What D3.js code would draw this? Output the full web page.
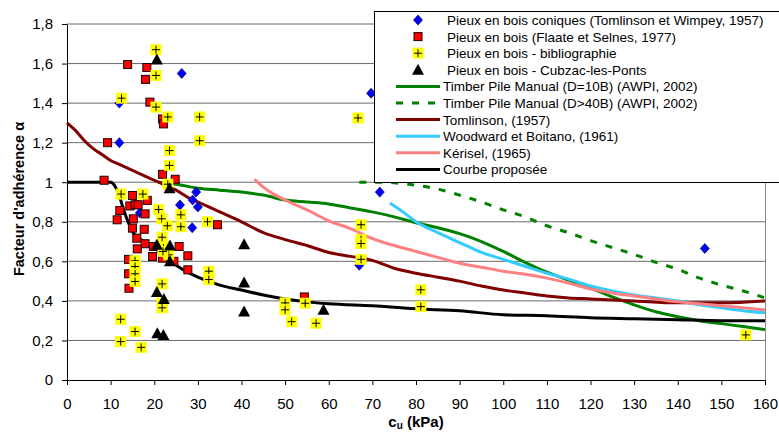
<!DOCTYPE html>
<html lang="fr">
<head>
    <meta charset="UTF-8">
    <title>Facteur d'adhérence α</title>
    <script src="https://d3js.org/d3.v7.min.js"></script>
    <style>
        body { margin: 0; background: white; }
        svg { display: block; font-family: 'Liberation Sans', Arial, sans-serif; }
    </style>
</head>
<body>
<svg width="779" height="433"></svg>
<script>
// ---- data: [cu (kPa), alpha] ----
const xTicks = [0, 10, 20, 30, 40, 50, 60, 70, 80, 90, 100, 110, 120, 130, 140, 150, 160];
const yTicks = [0, 0.2, 0.4, 0.6, 0.8, 1, 1.2, 1.4, 1.6, 1.8];

const coniques = [[12, 1.20], [12, 1.40], [26.3, 1.55], [29.6, 0.95], [28.8, 0.91], [30, 0.875], [25.9, 0.885],
    [28.7, 0.77], [16.7, 0.845], [69.7, 1.45], [71.7, 0.95], [67, 0.58], [146.2, 0.665]];

const flaate = [[13.9, 1.595], [18.3, 1.58], [18.0, 1.52], [19.0, 1.405], [21.9, 1.32], [22.1, 1.295], [9.3, 1.20],
    [21.9, 1.04], [24.8, 1.015], [8.5, 1.01], [15.0, 0.933], [18.4, 0.908], [14.4, 0.88], [15.6, 0.886], [16.3, 0.886],
    [12.1, 0.857], [17.9, 0.84], [11.5, 0.81], [15.2, 0.815], [15.0, 0.768], [17.7, 0.762], [16.0, 0.717], [17.9, 0.689],
    [16.1, 0.663], [19.8, 0.675], [19.6, 0.624], [21.9, 0.616], [25.7, 0.675], [27.7, 0.628], [27.7, 0.557],
    [14.1, 0.61], [14.1, 0.537], [14.2, 0.464], [24.5, 0.60], [34.5, 0.785], [54.4, 0.42]];

const biblio = [[20.4, 1.67], [20.4, 1.54], [12.5, 1.425], [20.4, 1.38], [23.1, 1.33], [30.4, 1.33], [66.7, 1.325],
    [30.4, 1.21], [23.5, 1.16], [23.5, 1.085], [23.1, 0.99], [12.4, 0.94], [17.4, 0.94], [21.0, 0.862], [21.7, 0.815],
    [23.0, 0.78], [26.1, 0.835], [26.1, 0.775], [32.2, 0.80], [21.8, 0.722], [22.1, 0.667], [23.3, 0.633], [22.0, 0.65],
    [15.6, 0.603], [15.6, 0.574], [15.6, 0.537], [15.6, 0.498], [21.8, 0.486], [21.8, 0.39], [21.8, 0.365],
    [12.3, 0.307], [12.3, 0.194], [15.6, 0.245], [17.0, 0.165], [32.5, 0.55], [32.5, 0.508], [50, 0.39], [50, 0.355],
    [51.5, 0.295], [54.6, 0.388], [57.1, 0.287], [67.4, 0.785], [67.4, 0.71], [67.4, 0.69], [67.4, 0.61],
    [81.1, 0.456], [81.1, 0.371], [155.6, 0.228]];

const cubzac = [[20.6, 1.62], [23.5, 0.97], [20.6, 0.684], [23.6, 0.68], [23.6, 0.60], [20.6, 0.445], [22.2, 0.41],
    [20.7, 0.236], [22.1, 0.228], [40.6, 0.687], [40.6, 0.493], [40.6, 0.346], [58.8, 0.355]];

const awpi10 = [[21, 1.0], [25, 0.99], [30, 0.97], [35, 0.96], [40, 0.95], [45, 0.935], [50, 0.91], [55, 0.90],
    [60, 0.89], [65, 0.87], [70, 0.85], [75, 0.825], [80, 0.795], [85, 0.77], [90, 0.74], [95, 0.70], [100, 0.65],
    [105, 0.595], [110, 0.545], [115, 0.505], [120, 0.465], [125, 0.42], [130, 0.38], [135, 0.345], [140, 0.32],
    [145, 0.30], [150, 0.285], [155, 0.27], [160, 0.255]];

const awpi40 = [[67, 1.0], [72, 1.0], [76, 0.995], [80, 0.985], [85, 0.965], [90, 0.935], [95, 0.90], [100, 0.86],
    [105, 0.825], [110, 0.78], [115, 0.745], [120, 0.705], [125, 0.67], [130, 0.635], [135, 0.595], [140, 0.56],
    [145, 0.515], [150, 0.48], [155, 0.45], [160, 0.415]];

const tomlinson = [[0, 1.30], [2, 1.26], [4, 1.21], [6, 1.17], [8, 1.14], [10, 1.11], [12, 1.09], [14, 1.07],
    [16, 1.05], [18, 1.03], [20, 1.01], [22, 0.99], [25, 0.96], [28, 0.92], [30, 0.90], [35, 0.85], [40, 0.80],
    [45, 0.745], [50, 0.71], [55, 0.68], [60, 0.645], [65, 0.625], [70, 0.605], [75, 0.565], [80, 0.54], [85, 0.52],
    [90, 0.50], [95, 0.475], [100, 0.455], [105, 0.44], [110, 0.425], [115, 0.415], [120, 0.41], [130, 0.40],
    [140, 0.39], [150, 0.39], [160, 0.40]];

const woodward = [[74, 0.895], [77, 0.85], [80, 0.80], [85, 0.745], [90, 0.695], [95, 0.645], [100, 0.61],
    [105, 0.575], [110, 0.54], [115, 0.51], [120, 0.475], [125, 0.45], [130, 0.43], [135, 0.415], [140, 0.40],
    [145, 0.38], [150, 0.365], [155, 0.35], [160, 0.34]];

const kerisel = [[43, 1.015], [45, 0.975], [47, 0.945], [50, 0.91], [55, 0.86], [60, 0.805], [65, 0.765], [70, 0.715],
    [75, 0.68], [80, 0.65], [85, 0.62], [90, 0.59], [95, 0.57], [100, 0.55], [105, 0.535], [110, 0.515], [115, 0.49],
    [120, 0.46], [125, 0.44], [130, 0.425], [135, 0.41], [140, 0.395], [145, 0.385], [150, 0.375], [155, 0.365],
    [160, 0.355]];

const courbe = [[0, 1.0], [10, 1.0], [11, 0.98], [12, 0.93], [13, 0.86], [14, 0.80], [15, 0.75], [17, 0.71],
    [20, 0.67], [22, 0.63], [25, 0.58], [30, 0.52], [35, 0.48], [40, 0.455], [45, 0.43], [50, 0.41], [55, 0.395],
    [60, 0.385], [70, 0.375], [80, 0.36], [90, 0.35], [100, 0.33], [110, 0.325], [120, 0.315], [130, 0.31],
    [140, 0.305], [150, 0.30], [160, 0.30]];

const svg = d3.select("svg"),
    margin = {top: 24, right: 14, bottom: 53, left: 67},
    width = +svg.attr("width") - margin.left - margin.right,
    height = +svg.attr("height") - margin.top - margin.bottom,
    g = svg.append("g").attr("transform", `translate(${margin.left},${margin.top})`);

const x = d3.scaleLinear().domain([0, 160]).range([0, width]);
const y = d3.scaleLinear().domain([0, 1.8]).range([height, 0]);

const fmt = v => d3.format("~g")(+v.toFixed(1)).replace(".", ",");

// gridlines
g.append("g")
    .selectAll("line")
    .data(yTicks.filter(d => d > 0))
    .join("line")
    .attr("x1", 0).attr("x2", width)
    .attr("y1", d => y(d)).attr("y2", d => y(d))
    .attr("stroke", "#6a6a6a")
    .attr("stroke-width", 1);

// right border of plot area
svg.append("line")
    .attr("x1", margin.left + width + 0.5).attr("x2", margin.left + width + 0.5)
    .attr("y1", 12).attr("y2", margin.top + height)
    .attr("stroke", "#888");

// axes
g.append("g")
    .attr("transform", `translate(0,${height})`)
    .call(d3.axisBottom(x).tickValues(xTicks).tickFormat(d => d).tickSize(5).tickSizeOuter(0))
    .call(a => a.selectAll(".domain, .tick line").attr("stroke", "black"))
    .call(a => a.selectAll(".tick text")
        .attr("dy", "0.71em").attr("y", 18)
        .style("font-size", "15px").style("font-family", "'Liberation Sans', Arial").attr("fill", "black"));

g.append("g")
    .call(d3.axisLeft(y).tickValues(yTicks).tickFormat(fmt).tickSize(5).tickSizeOuter(0))
    .call(a => a.selectAll(".domain, .tick line").attr("stroke", "black"))
    .call(a => a.selectAll(".tick text")
        .attr("x", -14)
        .style("font-size", "15px").style("font-family", "'Liberation Sans', Arial").attr("fill", "black"));

// axis titles
svg.append("text")
    .attr("transform", "translate(24,199) rotate(-90)")
    .attr("text-anchor", "middle")
    .style("font-size", "14.5px").style("font-weight", "bold")
    .text("Facteur d'adhérence α");

const xt = svg.append("text")
    .attr("x", 416).attr("y", 427)
    .attr("text-anchor", "middle")
    .style("font-size", "15px").style("font-weight", "bold");
xt.append("tspan").text("c");
xt.append("tspan").attr("dy", 2).style("font-size", "10px").text("u");
xt.append("tspan").attr("dy", -2).text(" (kPa)");

// curves
const line = d3.line().x(d => x(d[0])).y(d => y(d[1])).curve(d3.curveMonotoneX);

const curves = [
    {data: awpi10, label: "Timber Pile Manual (D=10B) (AWPI, 2002)", color: "#008000", dash: null},
    {data: awpi40, label: "Timber Pile Manual (D>40B) (AWPI, 2002)", color: "#008000", dash: "7,9"},
    {data: tomlinson, label: "Tomlinson, (1957)", color: "#800000", dash: null},
    {data: woodward, label: "Woodward et Boitano, (1961)", color: "#33ccff", dash: null},
    {data: kerisel, label: "Kérisel, (1965)", color: "#ff8080", dash: null},
    {data: courbe, label: "Courbe proposée", color: "#000000", dash: null}
];

curves.forEach(c => {
    g.append("path")
        .datum(c.data)
        .attr("fill", "none")
        .attr("stroke", c.color)
        .attr("stroke-width", 3)
        .attr("stroke-dasharray", c.dash)
        .attr("d", line);
});

// marker drawing
const drawDiamond = (sel) => sel.append("path")
    .attr("d", "M0,-5L4.5,0L0,5L-4.5,0Z")
    .attr("fill", "#0000ff").attr("stroke", "#000066").attr("stroke-width", 0.7);
const drawSquare = (sel) => sel.append("rect")
    .attr("x", -4).attr("y", -4).attr("width", 8).attr("height", 8)
    .attr("fill", "#ff0000").attr("stroke", "#200000").attr("stroke-width", 1);
const drawPlus = (sel) => {
    sel.append("rect").attr("x", -5.5).attr("y", -5.5).attr("width", 11).attr("height", 11).attr("fill", "#ffff00");
    sel.append("path").attr("d", "M-4,0H4M0,-4V4").attr("stroke", "black").attr("stroke-width", 1);
};
const drawTriangle = (sel) => sel.append("path")
    .attr("d", "M0,-6L6,5L-6,5Z").attr("fill", "black");

const markers = [
    {data: coniques, label: "Pieux en bois coniques (Tomlinson et Wimpey, 1957)", draw: drawDiamond},
    {data: flaate, label: "Pieux en bois (Flaate et Selnes, 1977)", draw: drawSquare},
    {data: biblio, label: "Pieux en bois - bibliographie", draw: drawPlus},
    {data: cubzac, label: "Pieux en bois - Cubzac-les-Ponts", draw: drawTriangle}
];

markers.forEach(m => {
    g.append("g").selectAll("g")
        .data(m.data)
        .join("g")
        .attr("transform", d => `translate(${x(d[0])},${y(d[1])})`)
        .each(function () { m.draw(d3.select(this)); });
});

// legend
const legend = svg.append("g").attr("transform", "translate(374,11)");
legend.append("rect")
    .attr("x", 0.5).attr("y", 0.5).attr("width", 430).attr("height", 171)
    .attr("fill", "white").attr("stroke", "black");

const rowY = i => 9 + i * 16.6;
markers.forEach((m, i) => {
    const s = legend.append("g").attr("transform", `translate(44,${rowY(i)})`);
    m.draw(s);
    legend.append("text").attr("x", 73).attr("y", rowY(i) + 5)
        .style("font-size", "13.5px").text(m.label);
});
curves.forEach((c, j) => {
    const i = j + 4;
    legend.append("line")
        .attr("x1", 22).attr("x2", 66)
        .attr("y1", rowY(i)).attr("y2", rowY(i))
        .attr("stroke", c.color).attr("stroke-width", 3)
        .attr("stroke-dasharray", c.dash);
    legend.append("text").attr("x", 69).attr("y", rowY(i) + 5)
        .style("font-size", "13.5px").text(c.label);
});
</script>
</body>
</html>
